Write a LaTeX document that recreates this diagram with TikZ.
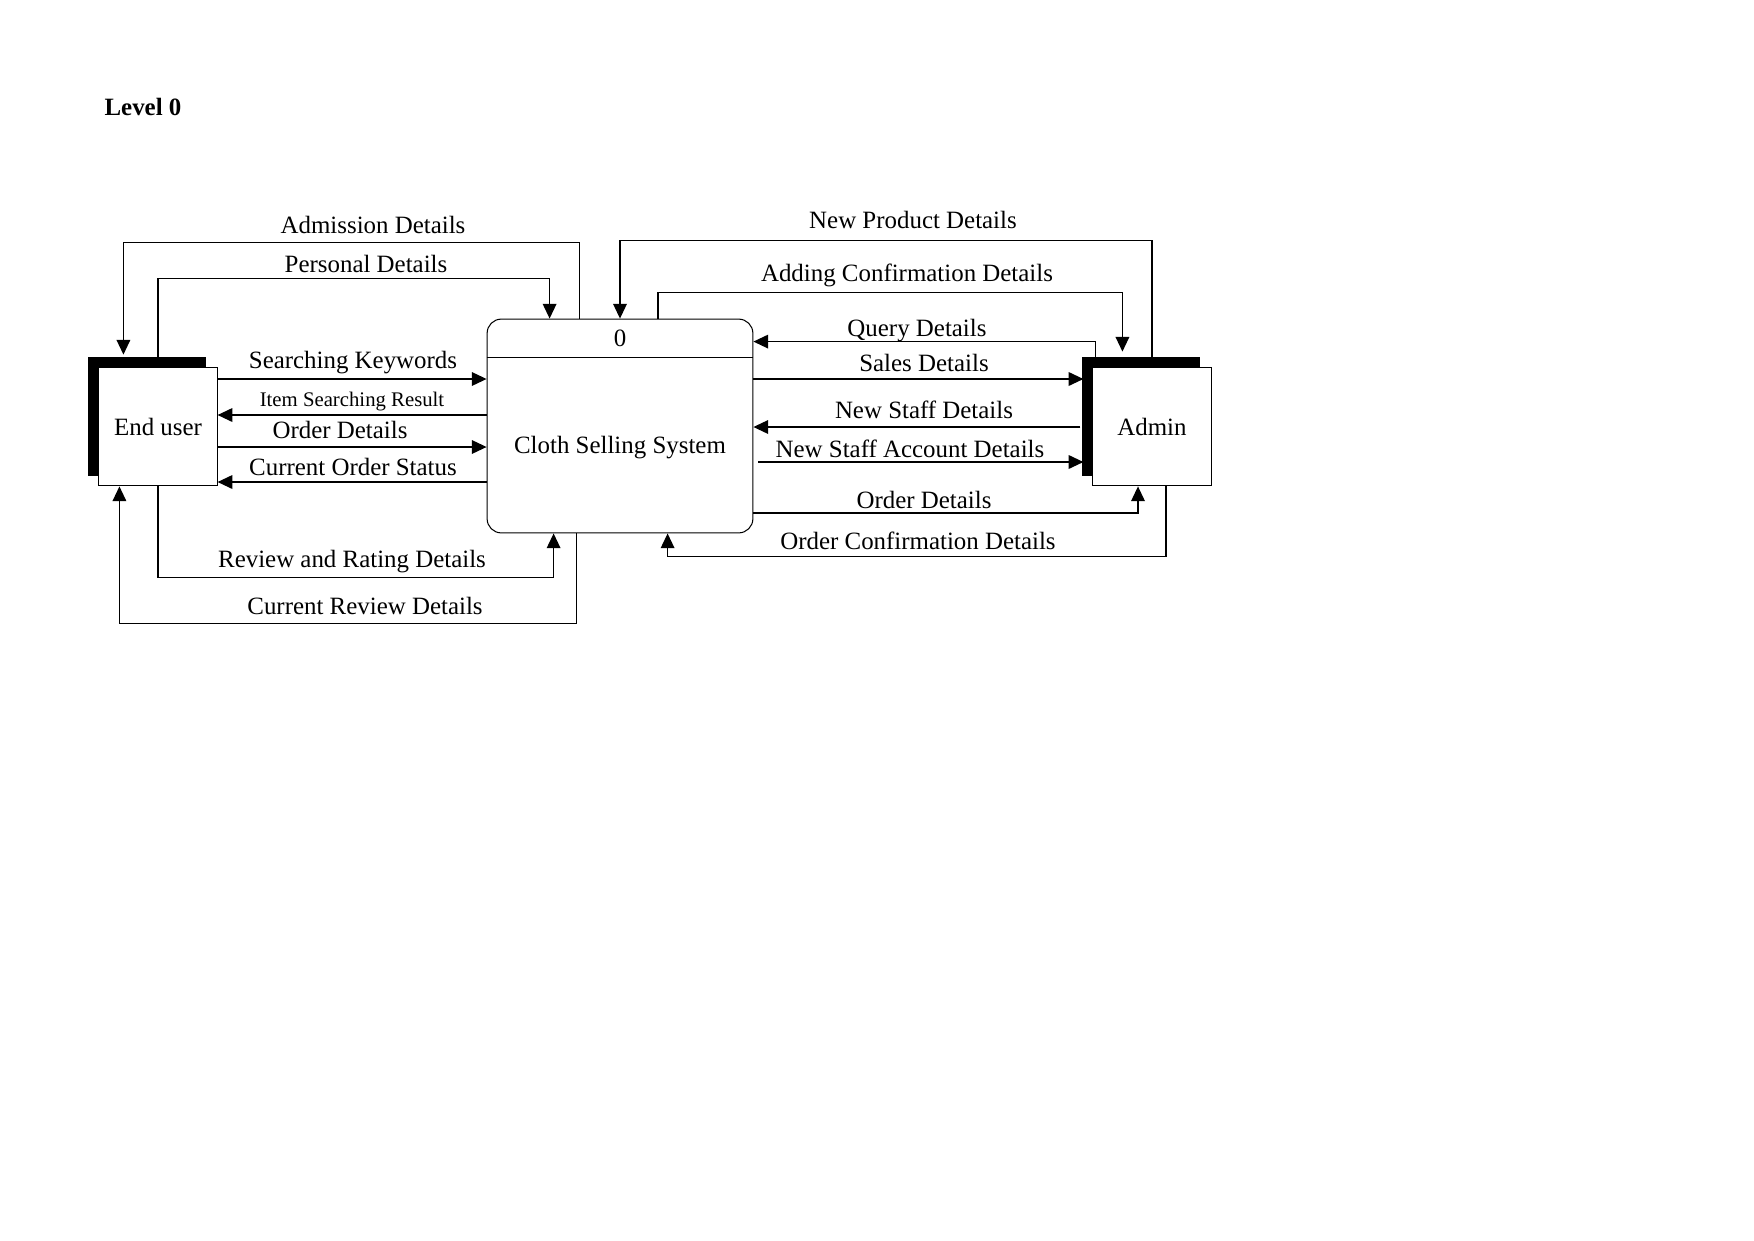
\documentclass[tikz,border=0pt]{standalone}
\usepackage{fontspec}
\setmainfont{Liberation Serif}
\usetikzlibrary{arrows.meta,positioning,calc,shadows}

\begin{document}
\begin{tikzpicture}[
x=0.16933mm, y=-0.16933mm,
font=\fontsize{12pt}{14pt}\selectfont,
entity/.style={draw, fill=white, line width=0.5pt, minimum width=20mm, minimum height=20.1mm, inner sep=0pt, general shadow={fill=black, shadow xshift=-1.8mm, shadow yshift=1.7mm}},
process/.style={draw, rounded corners=2.4mm, line width=0.5pt, minimum width=45mm, minimum height=36.2mm, inner sep=0pt},
arrow/.style={line width=0.75pt, -{Triangle[length=2.5mm, width=2.3mm]}},
lbl/.style={inner sep=0pt, text height=8.5pt, text depth=2.5pt, yshift=-0.4mm},
small/.style={lbl, font=\fontsize{10pt}{12pt}\selectfont}
]
\useasboundingbox (0,0) rectangle (1754,1240);

\node[lbl, yshift=-0.2mm, font=\bfseries\fontsize{12pt}{14pt}\selectfont] (level) at (143,106) {Level 0};

% entities and process
\node[entity] (user) at (158,426.5) {End user};
\node[process] (sys) at (620,426) {};
\node[entity] (admin) at (1152,426.5) {Admin};
\draw[line width=0.5pt] ([yshift=-6.6mm]sys.north west) -- ([yshift=-6.6mm]sys.north east);
\node[lbl] (sysnum) at (620,338) {0};
\node[lbl] (sysname) at (620,445) {Cloth Selling System};

% end user flows
\draw[arrow] ($(sys.north west)+(93,0)$) -- ++(0,-76) -| ($(user.north west)+(25,-12)$);
\draw[arrow] (user.north) -- ++(0,-88) -| ($(sys.north west)+(63,0)$);
\draw[arrow] ($(user.east)+(0,-47.5)$) -- ($(sys.west)+(0,-47)$);
\draw[arrow] ($(sys.west)+(0,-11)$) -- ($(user.east)+(0,-11.5)$);
\draw[arrow] ($(user.east)+(0,20.5)$) -- ($(sys.west)+(0,21)$);
\draw[arrow] ($(sys.west)+(0,56)$) -- ($(user.east)+(0,55.5)$);
\draw[arrow] (user.south) -- ++(0,91) -| ($(sys.south west)+(67,0)$);
\draw[arrow] ($(sys.south west)+(90,0)$) -- ++(0,90) -| ($(user.south west)+(21,0)$);

\node[lbl] (admission) at (373,225) {Admission Details};
\node[lbl] (personal) at (366,264) {Personal Details};
\node[lbl] (keywords) at (353,360) {Searching Keywords};
\node[small] (result) at (352,398) {Item Searching Result};
\node[lbl] (order) at (340,430) {Order Details};
\node[lbl] (status) at (353,467) {Current Order Status};
\node[lbl] (review) at (352,559) {Review and Rating Details};
\node[lbl] (curreview) at (365,606) {Current Review Details};

% admin flows
\draw[arrow] (admin.north) -- ++(0,-126) -| (sys.north);
\draw[arrow] ($(sys.north)+(38,0)$) -- ++(0,-26) -| ($(admin.north west)+(30,-15)$);
\draw[arrow] ($(admin.north west)+(3,-10)$) |- ($(sys.north east)+(0,23)$);
\draw[arrow] ($(sys.east)+(0,-47)$) -- ($(admin.west)+(-9,-47.5)$);
\draw[arrow] ($(admin.west)+(-12,0.5)$) -- ($(sys.east)+(0,1)$);
\draw[arrow] ($(sys.east)+(5,36)$) -- ($(admin.west)+(-9,35.5)$);
\draw[arrow] ($(sys.east)+(0,87)$) -| ($(admin.south)+(-14,0)$);
\draw[arrow] ($(admin.south)+(14,0)$) -- ++(0,70) -| ($(sys.south west)+(181,0)$);

\node[lbl] (newproduct) at (913,220) {New Product Details};
\node[lbl] (adding) at (907,273) {Adding Confirmation Details};
\node[lbl] (query) at (917,328) {Query Details};
\node[lbl] (sales) at (924,363) {Sales Details};
\node[lbl] (newstaff) at (924,410) {New Staff Details};
\node[lbl] (staffacc) at (910,449) {New Staff Account Details};
\node[lbl] (adminorder) at (924,500) {Order Details};
\node[lbl] (confirm) at (918,541) {Order Confirmation Details};
\end{tikzpicture}
\end{document}
